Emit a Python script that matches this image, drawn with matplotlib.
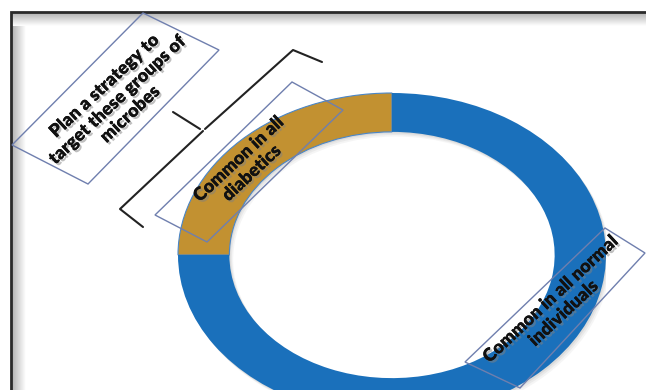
import numpy as np
import matplotlib
matplotlib.use('Agg')
import matplotlib.pyplot as plt
import matplotlib.patheffects as pe
from matplotlib.patches import Polygon, Wedge

# Ring data: share of microbe groups
segment_names = ['Common in all diabetics', 'Common in all normal individuals']
segment_values = [25, 75]
segment_colors = ['#c29131', '#1a70bb']

# Annotation boxes (text + parallelogram corners in pixel coords)
box_texts = ['Plan a strategy to\ntarget these groups of\nmicrobes',
             'Common in all\ndiabetics',
             'Common in all normal\nindividuals']
box_centers = [(117, 100), (245, 166), (557, 306)]
box_corners = [[(12, 145), (88, 184), (219, 50), (143, 13)],
               [(155, 215), (207, 242), (343, 110), (292, 82)],
               [(465, 362), (520, 388), (645, 253), (605, 228)]]

# Bracket polylines
bracket_upper = [(322, 62), (293, 50), (205, 129)]
bracket_nub = [(173, 112), (200, 129)]
bracket_lower = [(203, 131), (120, 209), (143, 227)]

W, H = 646, 390
fig = plt.figure(figsize=(W / 100, H / 100), dpi=100)
fig.patch.set_facecolor('white')

# ----------- RING (elliptical donut) -----------
cx, cy, rx, ry = 392, 255, 214, 162
ax_pie = fig.add_axes([(cx - rx) / W, 1 - (cy + ry) / H, 2 * rx / W, 2 * ry / H])
ax_pie.set_zorder(1)

# soft grey shadow below the ring
for k, a in enumerate([0.10, 0.08, 0.06]):
    off = 0.006 * (k + 1)
    ax_pie.add_patch(Wedge((off, -off * 1.6), 1.0, 0, 360, width=0.24,
                           facecolor='#606060', edgecolor='none', alpha=a))

wedges, _ = ax_pie.pie(segment_values, colors=segment_colors, startangle=90,
                       counterclock=True, radius=1.0,
                       wedgeprops=dict(width=0.24, linewidth=0))
wedges[0].set_edgecolor('#4a86c8')
wedges[0].set_linewidth(0.8)
ax_pie.set_xlim(-1, 1)
ax_pie.set_ylim(-1, 1)
ax_pie.set_aspect('auto')
ax_pie.axis('off')

# ----------- OVERLAY (frame, boxes, text, bracket) -----------
ax = fig.add_axes([0, 0, 1, 1])
ax.set_zorder(2)
ax.patch.set_alpha(0)
ax.set_xlim(0, W)
ax.set_ylim(H, 0)
ax.axis('off')

# frame shading
grad = np.linspace(0.70, 1.0, 64)
ax.imshow(np.tile(grad, (2, 1)), cmap='gray', vmin=0, vmax=1,
          extent=(12, 26, H, 13), aspect='auto', zorder=0)
ax.imshow(np.tile(grad[:, None], (1, 2)), cmap='gray', vmin=0, vmax=1,
          extent=(12, W, 26, 13), aspect='auto', zorder=0)
ax.plot([11, 11, W], [H, 12, 12], color='#2a2a2a', lw=2, solid_joinstyle='miter', zorder=1)

# annotation boxes
shadow = [pe.withSimplePatchShadow(offset=(1.5, -1.5), shadow_rgbFace='#808080', alpha=0.5), pe.Normal()]
for txt, (tx, ty), corners in zip(box_texts, box_centers, box_corners):
    ax.add_patch(Polygon(corners, closed=True, fill=False, edgecolor='#6f7fae', lw=1, zorder=3))
    ax.text(tx, ty, txt, rotation=43, rotation_mode='anchor', ha='center', va='center',
            fontsize=13, fontweight='heavy', family='Lato', color='#111111',
            linespacing=1.15, multialignment='center', path_effects=shadow, zorder=4)

# bracket
for seg in (bracket_upper, bracket_nub, bracket_lower):
    xs, ys = zip(*seg)
    ax.plot(xs, ys, color='#222222', lw=1.5, solid_capstyle='round', zorder=3)

plt.savefig('out.png', dpi=100, facecolor='white')
